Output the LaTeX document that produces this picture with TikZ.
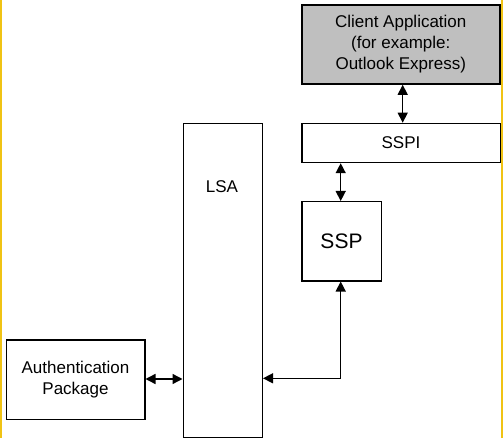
\documentclass[tikz,border=0pt]{standalone}
\usepackage{fontspec}
\setmainfont{Liberation Sans}
\usetikzlibrary{arrows.meta}
\definecolor{edgeyellow}{RGB}{240,195,20}
\begin{document}
\begin{tikzpicture}[x=1pt,y=-1pt,
  box/.style={draw=black,line width=1.5pt,inner sep=0pt,font=\fontsize{17}{21}\selectfont,align=center,anchor=north west},
  tip/.tip={Triangle[length=10pt,width=10pt]},
  conn/.style={line width=1.4pt,tip-tip}]
\useasboundingbox (0,0) rectangle (503,438);
\fill[white] (0,0) rectangle (503,438);
\fill[edgeyellow] (0,0) rectangle (1.5,438);
\fill[edgeyellow] (501.3,0) rectangle (503,438);
\node[box,fill=black!25,minimum width=198pt,minimum height=79pt] (client) at (301,4.3) {Client Application\\(for example:\\Outlook Express)};
\node[box,minimum width=198.5pt,minimum height=39pt] (sspi) at (301,122.7) {SSPI};
\node[box,minimum width=79.5pt,minimum height=79pt,font=\fontsize{21}{24}\selectfont] (ssp) at (301,201) {SSP};
\node[box,minimum width=79pt,minimum height=314.5pt] (lsa) at (182.5,122.7) {};
\node[font=\fontsize{17}{21}\selectfont] (lsatext) at (222,187) {LSA};
\node[box,minimum width=138.5pt,minimum height=79.5pt] (auth) at (5.5,339.3) {Authentication\\Package};
\draw[black!30,line width=1.5pt] (lsa.south west) -- (lsa.south east);
\coordinate (corner) at (340.7,378.3);
\draw[conn] (client.south -| 402.7,0) -- (sspi.north -| 402.7,0);
\draw[conn] (sspi.south -| 340.7,0) -- (ssp.north -| 340.7,0);
\draw[conn] (auth.east |- 0,379) -- (lsa.west |- 0,379);
\draw[conn] (ssp.south -| corner) -- (corner) -- (lsa.east |- corner);
\end{tikzpicture}
\end{document}
